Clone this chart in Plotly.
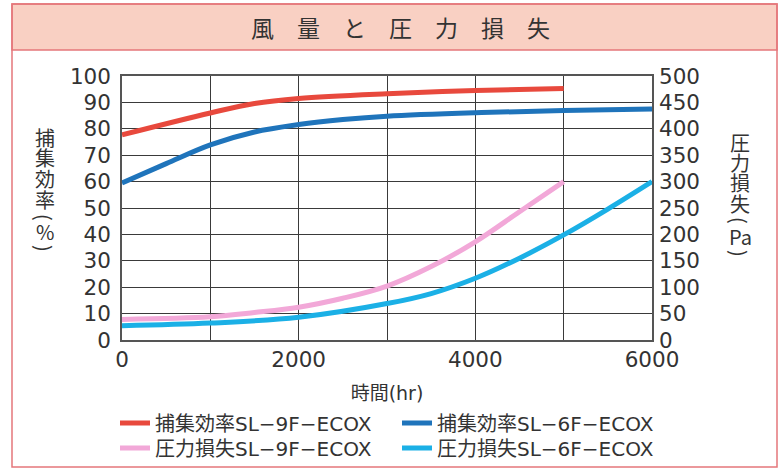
import plotly.graph_objects as go

# ---- data ----
eff9_x = [0, 1000, 1500, 2000, 3000, 4000, 5000]
eff9_y = [77.7, 86.0, 89.6, 91.5, 93.3, 94.5, 95.3]

eff6_x = [0, 500, 1000, 1500, 2000, 2500, 3000, 4000, 5000, 6000]
eff6_y = [59.5, 66.8, 73.9, 78.8, 81.6, 83.5, 84.8, 86.1, 86.9, 87.5]

pl9_x = [0, 1000, 1500, 2000, 2500, 3000, 3500, 4000, 4500, 5000]
pl9_y = [39, 44, 52, 62, 79, 102, 139, 186, 243, 300]

pl6_x = [0, 1000, 2000, 3000, 3500, 4000, 4500, 5000, 5500, 6000]
pl6_y = [27, 32, 43, 69, 88, 117, 155, 199, 248, 300]

names = ["捕集効率SL−9F−ECOX", "捕集効率SL−6F−ECOX",
         "圧力損失SL−9F−ECOX", "圧力損失SL−6F−ECOX"]
x_tickvals = [0, 1000, 2000, 3000, 4000, 5000, 6000]
x_ticktext = ["0", "", "2000", "", "4000", "", "6000"]
title_text = "風　量　と　圧　力　損　失"
x_title = "時間(hr)"
left_title = ["捕", "集", "効", "率", "(", "%", ")"]
right_title = ["圧", "力", "損", "失", "(", "Pa", ")"]

# ---- layout helpers ----
W, H = 779, 472
L, R, T, B = 122, 652, 76, 340


def px(x):
    return (x - L) / (R - L)


def py(y):
    return (B - y) / (B - T)


JP = "Noto Sans CJK JP"
NUM = "DejaVu Sans"
LEG = "DejaVu Sans, Noto Sans CJK JP"
TXT = "#333333"
colors = ["#e8493d", "#1f74bb", "#f2a8d8", "#1bb0e6"]

fig = go.Figure()
fig.add_trace(go.Scatter(x=eff9_x, y=eff9_y, name=names[0], mode="lines", legend="legend",
                         line=dict(color=colors[0], width=5, shape="spline", smoothing=1)))
fig.add_trace(go.Scatter(x=eff6_x, y=eff6_y, name=names[1], mode="lines", legend="legend",
                         line=dict(color=colors[1], width=5, shape="spline", smoothing=1)))
fig.add_trace(go.Scatter(x=pl9_x, y=pl9_y, name=names[2], mode="lines", yaxis="y2", legend="legend2",
                         line=dict(color=colors[2], width=5, shape="spline", smoothing=1)))
fig.add_trace(go.Scatter(x=pl6_x, y=pl6_y, name=names[3], mode="lines", yaxis="y2", legend="legend2",
                         line=dict(color=colors[3], width=5, shape="spline", smoothing=1)))

shapes = [
    dict(type="rect", xref="paper", yref="paper", layer="below",
         x0=px(12), x1=px(777), y0=py(50), y1=py(4),
         fillcolor="#f9d0c3", line=dict(color="#e5777b", width=1.5)),
    dict(type="rect", xref="paper", yref="paper", layer="below",
         x0=px(12), x1=px(777), y0=py(467), y1=py(4),
         fillcolor="rgba(0,0,0,0)", line=dict(color="#e5777b", width=1.5)),
]

annotations = [
    dict(text=title_text, x=px(400), y=py(27), xref="paper", yref="paper",
         xanchor="center", yanchor="middle",
         showarrow=False, font=dict(family=JP, size=23, color=TXT)),
]


def vertical_title(chars, xc, ys):
    for ch, yy in zip(chars, ys):
        rot = 90 if ch in "()" else 0
        annotations.append(dict(text=ch, x=px(xc), y=py(yy), xref="paper", yref="paper",
                                xanchor="center", yanchor="middle", textangle=rot,
                                showarrow=False, font=dict(family=JP, size=20, color=TXT)))


vertical_title(left_title, 45, [137, 157, 178, 199, 217, 232, 248])
vertical_title(right_title, 740, [142, 162, 182, 203, 220, 236, 253])

legend_common = dict(orientation="h", xanchor="left", yanchor="middle",
                     entrywidth=237, font=dict(family=LEG, size=20, color=TXT),
                     bgcolor="rgba(0,0,0,0)")

fig.update_layout(
    width=W, height=H,
    margin=dict(l=L, r=W - R, t=T, b=H - B, pad=0, autoexpand=False),
    paper_bgcolor="white", plot_bgcolor="white",
    showlegend=True,
    legend=dict(x=px(115), y=py(423), **legend_common),
    legend2=dict(x=px(115), y=py(448), **legend_common),
    xaxis=dict(range=[0, 6000], tickvals=x_tickvals, ticktext=x_ticktext,
               showgrid=True, gridcolor="#3a3a3a", gridwidth=1,
               showline=True, mirror=True, linecolor="#555555", linewidth=1.5,
               zeroline=False, ticks="", ticklabelstandoff=-1,
               tickfont=dict(family=NUM, size=21.5, color=TXT),
               title=dict(text=x_title, font=dict(family=LEG, size=19, color=TXT), standoff=16)),
    yaxis=dict(range=[0, 100], dtick=10, showgrid=True, gridcolor="#3a3a3a", gridwidth=1,
               showline=True, mirror=True, linecolor="#555555", linewidth=1.5,
               zeroline=False, ticks="", ticklabelstandoff=5,
               tickfont=dict(family=NUM, size=21.5, color=TXT)),
    yaxis2=dict(range=[0, 500], dtick=50, overlaying="y", side="right",
                showgrid=False, zeroline=False, showline=False, ticks="",
                ticklabelstandoff=6,
                tickfont=dict(family=NUM, size=21.5, color=TXT)),
    shapes=shapes,
    annotations=annotations,
    hovermode=False,
)

fig.write_html("out.html", config={"displayModeBar": False},
               post_script="document.body.style.margin='0px';document.body.style.overflow='hidden';")
